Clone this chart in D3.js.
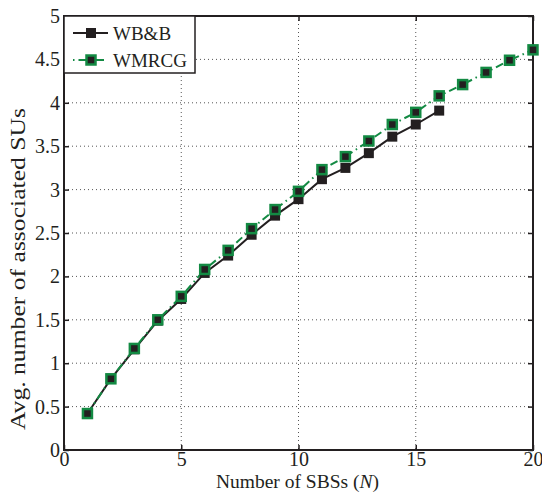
<!DOCTYPE html>
<html><head><meta charset="utf-8">
<script src="https://cdn.jsdelivr.net/npm/d3@7"></script>
<style>body{margin:0;background:#fff;}svg{display:block;}</style>
</head><body>
<svg id="c" width="542" height="493"></svg>
<script>
const xValues = [1,2,3,4,5,6,7,8,9,10,11,12,13,14,15,16,17,18,19,20];
const wbbX = [1,2,3,4,5,6,7,8,9,10,11,12,13,14,15,16];
const wbbY = [0.42,0.82,1.16,1.49,1.74,2.04,2.24,2.48,2.70,2.89,3.12,3.25,3.42,3.61,3.75,3.91];
const wmrcgY = [0.42,0.82,1.17,1.50,1.77,2.08,2.30,2.55,2.77,2.98,3.23,3.38,3.56,3.75,3.89,4.08,4.21,4.35,4.49,4.61];
const xTicks = [0,5,10,15,20];
const yTicks = [0,0.5,1,1.5,2,2.5,3,3.5,4,4.5,5];
const seriesNames = ["WB&B","WMRCG"];

const svg = d3.select("#c");
const L=64, R=533, T=16, B=450;
const x = d3.scaleLinear().domain([0,20]).range([L,R]);
const y = d3.scaleLinear().domain([0,5]).range([B,T]);
const font = "Liberation Serif, Times New Roman, serif";
const green = "#138a43", dark = "#231f20";

// grid
svg.append("g").selectAll("line").data(xTicks.slice(1,-1)).join("line")
  .attr("x1",d=>x(d)).attr("x2",d=>x(d)).attr("y1",T).attr("y2",B)
  .attr("stroke","#555").attr("stroke-width",1).attr("stroke-dasharray","1,3");
svg.append("g").selectAll("line").data(yTicks.slice(1,-1)).join("line")
  .attr("x1",L).attr("x2",R).attr("y1",d=>y(d)).attr("y2",d=>y(d))
  .attr("stroke","#555").attr("stroke-width",1).attr("stroke-dasharray","1,3");

// axes
const xa = svg.append("g").attr("transform",`translate(0,${B})`)
  .call(d3.axisBottom(x).tickValues(xTicks).tickSize(-5).tickPadding(8).tickFormat(d3.format("d")));
xa.selectAll("text").attr("y",16).attr("dy",0);
const xa2 = svg.append("g").attr("transform",`translate(0,${T})`)
  .call(d3.axisTop(x).tickValues(xTicks).tickSize(-5).tickFormat(""));
const ya = svg.append("g").attr("transform",`translate(${L},0)`)
  .call(d3.axisLeft(y).tickValues(yTicks).tickSize(-5).tickPadding(4).tickFormat(d=>String(d)));
ya.selectAll("text").attr("x",-4);
const ya2 = svg.append("g").attr("transform",`translate(${R},0)`)
  .call(d3.axisRight(y).tickValues(yTicks).tickSize(-5).tickFormat(""));
[xa,xa2,ya,ya2].forEach(g=>{
  g.select(".domain").remove();
  g.selectAll(".tick line").attr("stroke",dark).attr("stroke-width",1.5);
  g.selectAll("text").attr("font-family",font).attr("font-size",20).attr("fill",dark);
});
svg.append("rect").attr("x",L).attr("y",T).attr("width",R-L).attr("height",B-T)
  .attr("fill","none").attr("stroke",dark).attr("stroke-width",2);

// lines
const wbb = wbbX.map((d,i)=>[d,wbbY[i]]);
const wm = xValues.map((d,i)=>[d,wmrcgY[i]]);
const line = d3.line().x(d=>x(d[0])).y(d=>y(d[1]));
svg.append("path").datum(wbb).attr("d",line).attr("fill","none").attr("stroke",dark).attr("stroke-width",2);
svg.append("path").datum(wm).attr("d",line).attr("fill","none").attr("stroke",green).attr("stroke-width",2)
  .attr("stroke-dasharray","8,4,1.5,4");
svg.append("g").selectAll("rect").data(wbb).join("rect")
  .attr("x",d=>x(d[0])-5).attr("y",d=>y(d[1])-5).attr("width",10).attr("height",10).attr("fill",dark);
svg.append("g").selectAll("rect").data(wm).join("rect")
  .attr("x",d=>x(d[0])-4.5).attr("y",d=>y(d[1])-4.5).attr("width",9).attr("height",9)
  .attr("fill",dark).attr("stroke",green).attr("stroke-width",2.5);

// legend
const lg = svg.append("g");
lg.append("rect").attr("x",L).attr("y",T).attr("width",131).attr("height",57)
  .attr("fill","#fff").attr("stroke",dark).attr("stroke-width",1.5);
const ly = [33,60];
lg.append("line").attr("x1",73).attr("x2",108).attr("y1",ly[0]).attr("y2",ly[0]).attr("stroke",dark).attr("stroke-width",2);
lg.append("rect").attr("x",86).attr("y",ly[0]-5).attr("width",10).attr("height",10).attr("fill",dark);
lg.append("line").attr("x1",73).attr("x2",108).attr("y1",ly[1]).attr("y2",ly[1]).attr("stroke",green).attr("stroke-width",2).attr("stroke-dasharray","1.5,4,8,4");
lg.append("rect").attr("x",86.5).attr("y",ly[1]-4.5).attr("width",9).attr("height",9).attr("fill",dark).attr("stroke",green).attr("stroke-width",2.5);
lg.selectAll("text").data(seriesNames).join("text")
  .attr("x",113).attr("y",(d,i)=>ly[i]+7).text(d=>d)
  .attr("font-family",font).attr("font-size",19).attr("fill",dark);

// axis labels
const xl = svg.append("text").attr("x",(L+R)/2 - 1).attr("y",488).attr("text-anchor","middle")
  .attr("font-family",font).attr("font-size",19.5).attr("fill",dark);
xl.append("tspan").text("Number of SBSs (");
xl.append("tspan").attr("font-style","italic").text("N");
xl.append("tspan").text(")");
svg.append("text").attr("transform",`translate(25,269) rotate(-90)`).attr("text-anchor","middle")
  .attr("font-family",font).attr("font-size",21).attr("fill",dark)
  .attr("textLength",322).attr("lengthAdjust","spacingAndGlyphs")
  .text("Avg. number of associated SUs");
</script>
</body></html>
